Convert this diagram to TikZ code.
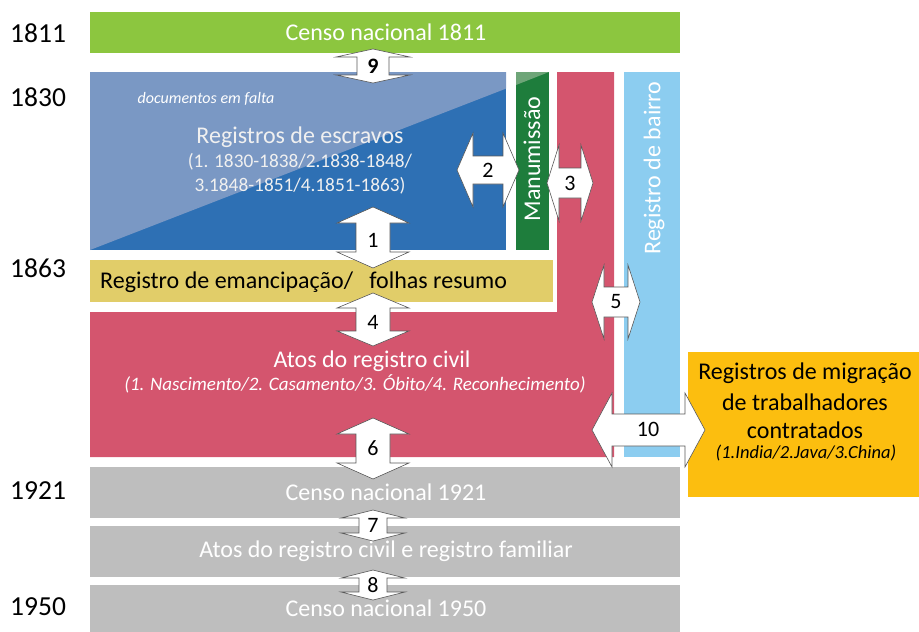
\documentclass[tikz,border=0pt]{standalone}
\usepackage{fontspec}
\setmainfont{Carlito}
\definecolor{cgreen}{RGB}{140,198,63}
\definecolor{cblue}{RGB}{46,112,180}
\definecolor{clblue}{RGB}{122,152,196}
\definecolor{cmanu}{RGB}{30,125,60}
\definecolor{clmanu}{RGB}{110,165,120}
\definecolor{cred}{RGB}{212,85,110}
\definecolor{csky}{RGB}{140,205,240}
\definecolor{cyel}{RGB}{225,205,105}
\definecolor{cgrey}{RGB}{190,190,190}
\definecolor{corange}{RGB}{252,190,15}
\newcommand{\vdarr}[6]{%
  \draw[arr] (#1,#2) -- ({#1+#4},{#2+#6}) -- ({#1+#5},{#2+#6}) -- ({#1+#5},{#3-#6}) -- ({#1+#4},{#3-#6}) -- (#1,#3) -- ({#1-#4},{#3-#6}) -- ({#1-#5},{#3-#6}) -- ({#1-#5},{#2+#6}) -- ({#1-#4},{#2+#6}) -- cycle;}
\newcommand{\hdarr}[6]{%
  \draw[arr] (#2,#1) -- ({#2+#6},{#1-#4}) -- ({#2+#6},{#1-#5}) -- ({#3-#6},{#1-#5}) -- ({#3-#6},{#1-#4}) -- (#3,#1) -- ({#3-#6},{#1+#4}) -- ({#3-#6},{#1+#5}) -- ({#2+#6},{#1+#5}) -- ({#2+#6},{#1+#4}) -- cycle;}
\begin{document}
\begin{tikzpicture}[x=1pt,y=-1pt,
  arr/.style={fill=white,draw=black!65,line width=0.6pt,line join=miter},
  txt/.style={inner sep=0pt,font=\fontsize{24}{28}\selectfont},
  wtxt/.style={txt,text=white},
  itxt/.style={inner sep=0pt,font=\fontsize{19}{23}\selectfont\itshape,text=white},
  yr/.style={inner sep=0pt,anchor=west,font=\fontsize{27.5}{30}\selectfont},
  num/.style={inner sep=0pt,font=\fontsize{22}{26}\selectfont}]
\useasboundingbox (0,0) rectangle (919,632);
% boxes
\fill[cgreen] (90,12) rectangle (680,53);
\fill[cblue] (90,72) rectangle (506,250);
\fill[clblue] (90,72) -- (506,72) -- (506,88.6) -- (90,250) -- cycle;
\fill[cmanu] (516,72) rectangle (549,250);
\fill[clmanu] (516,72) -- (549,72) -- (516,85) -- cycle;
\fill[cred] (557,72) -- (614,72) -- (614,457) -- (90,457) -- (90,312) -- (557,312) -- cycle;
\fill[csky] (624,72) rectangle (680,457);
\fill[cyel] (90,260) rectangle (553,302);
\fill[cgrey] (90,467) rectangle (680,518);
\fill[cgrey] (90,526) rectangle (680,577);
\fill[cgrey] (90,585) rectangle (680,632);
\fill[corange] (688,352) rectangle (919,497);
% years
\node[yr] (y1811) at (10,33) {1811};
\node[yr] (y1830) at (10,97) {1830};
\node[yr] (y1863) at (10,268) {1863};
\node[yr] (y1921) at (10,491) {1921};
\node[yr] (y1950) at (10,607) {1950};
% texts
\node[wtxt] (c1811) at (386,32) {Censo nacional 1811};
\node[inner sep=0pt,font=\fontsize{16}{18}\selectfont\itshape,text=white] (falta) at (206,99) {documentos em falta};
\node[wtxt,text=white!88!gray] (escr) at (300,137) {Registros de escravos};
\node[inner sep=0pt,font=\fontsize{19.3}{23}\selectfont,text=white!88!gray] (escr2) at (300,162) {(1. 1830-1838/2.1838-1848/};
\node[inner sep=0pt,font=\fontsize{19.3}{23}\selectfont,text=white!88!gray] (escr3) at (300,186) {3.1848-1851/4.1851-1863)};
\node[wtxt,rotate=90] (manu) at (532,159) {Manumissão};
\node[wtxt,rotate=90] (bairro) at (654,168) {Registro de bairro};
\node[txt,anchor=west] (emanc) at (100,282) {Registro de emancipação/~~~folhas resumo};
\node[wtxt] (atos) at (372,361) {Atos do registro civil};
\node[itxt] (atos2) at (355,384) {(1. Nascimento/2. Casamento/3. Óbito/4. Reconhecimento)};
\node[wtxt] (c1921) at (386,492) {Censo nacional 1921};
\node[wtxt] (fam) at (386,551) {Atos do registro civil e registro familiar};
\node[wtxt] (c1950) at (386,608) {Censo nacional 1950};
\node[txt] (mig1) at (805,373) {Registros de migração};
\node[txt] (mig2) at (805,402) {de trabalhadores};
\node[txt] (mig3) at (805,430) {contratados};
\node[inner sep=0pt,font=\fontsize{18.5}{21}\selectfont\itshape] (mig4) at (806,453) {(1.India/2.Java/3.China)};
% arrows
\vdarr{373}{49}{83}{37}{16}{8}
\node[num,font=\fontsize{22}{26}\selectfont\bfseries] (n9) at (373,66) {9};
\vdarr{373}{207}{268}{36}{17}{16}
\node[num] (n1) at (373,240) {1};
\vdarr{373}{293}{346}{36}{17}{15}
\node[num] (n4) at (373,322) {4};
\vdarr{373}{418}{479}{36}{17}{16}
\node[num] (n6) at (373,448) {6};
\vdarr{373}{510}{541}{32}{14}{8}
\node[num] (n7) at (373,525) {7};
\vdarr{373}{570}{600}{32}{14}{8}
\node[num] (n8) at (373,585) {8};
\hdarr{170}{457}{519}{37}{14}{16}
\node[num] (n2) at (488,170) {2};
\hdarr{183}{547}{593}{38}{15}{12}
\node[num] (n3) at (570,183) {3};
\hdarr{302}{592}{640}{37}{15}{12}
\node[num] (n5) at (616,302) {5};
\hdarr{430}{592}{705}{37}{16}{20}
\node[num] (n10) at (648,429) {10};
\end{tikzpicture}
\end{document}
